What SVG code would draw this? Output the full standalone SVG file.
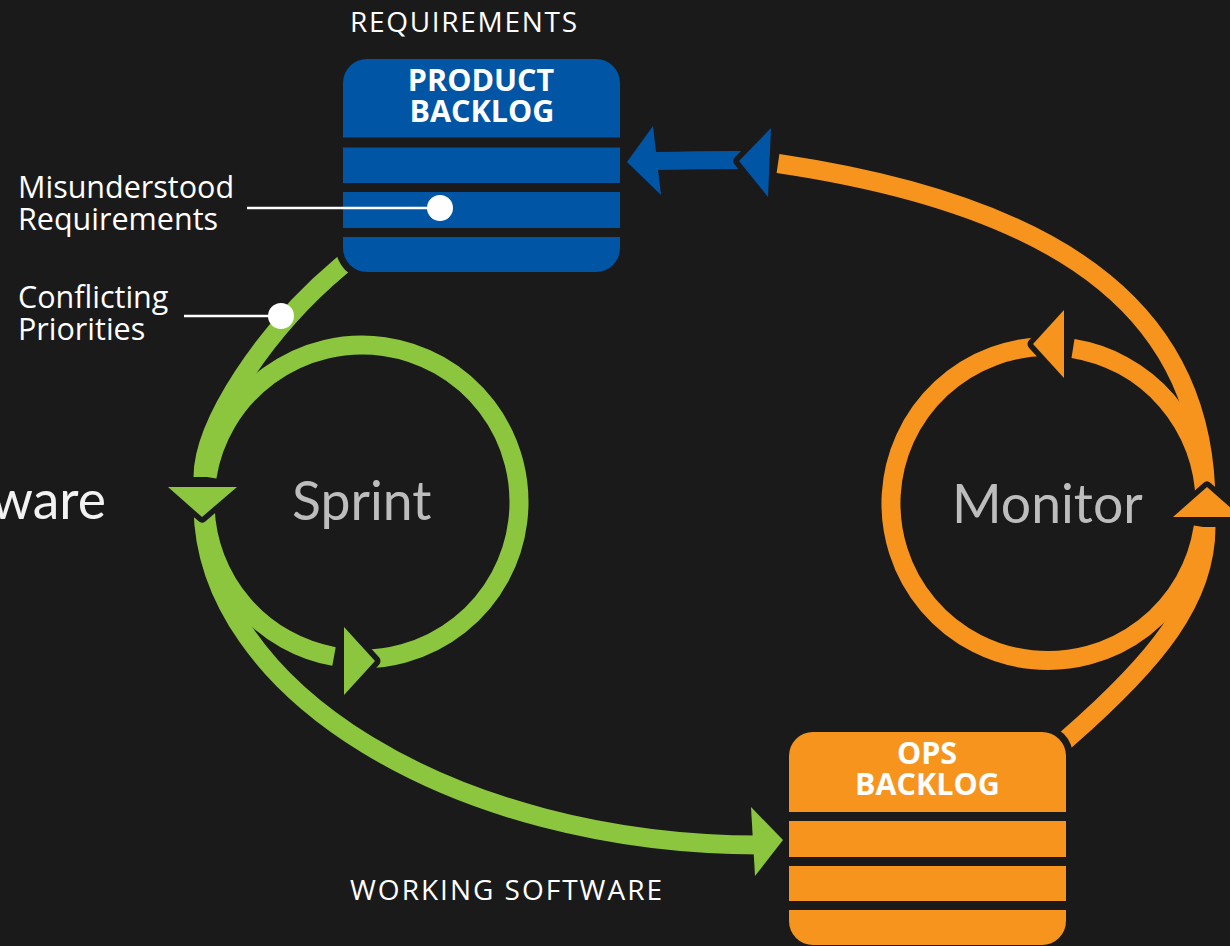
<svg xmlns="http://www.w3.org/2000/svg" width="1230" height="946" viewBox="0 0 1230 946">
<style>
.bg{fill:#1a1a1a}
.g{fill:none;stroke:#8cc63f;stroke-width:19}
.o{fill:none;stroke:#f7941d;stroke-width:19}
.b{fill:none;stroke:#0055a5;stroke-width:18}
.ah{stroke:#1a1a1a;stroke-width:11;stroke-linejoin:round;paint-order:stroke}
.lbl{font-family:"Open Sans","Noto Sans",sans-serif;font-size:30.5px;fill:#ffffff}
.cap{font-family:"Open Sans","Noto Sans",sans-serif;font-size:28px;fill:#ffffff}
.big{font-family:Lato,"Open Sans",sans-serif;font-size:53.5px;fill:#bdbdbd}
.hd{font-family:"Open Sans","Noto Sans",sans-serif;font-size:30.5px;font-weight:700;fill:#ffffff;text-anchor:middle}
.call{stroke:#ffffff;stroke-width:2.5}
</style>
<defs>
<mask id="boxgap" maskUnits="userSpaceOnUse" x="0" y="0" width="1230" height="946">
<rect x="0" y="0" width="1230" height="946" fill="#fff"/>
<rect x="336" y="52" width="291" height="227" rx="31" fill="#000"/>
<rect x="782" y="725" width="291" height="240" rx="31" fill="#000"/>
</mask>
</defs>
<rect class="bg" x="0" y="0" width="1230" height="946"/>

<g id="connectors">
<g mask="url(#boxgap)">
<path class="g" d="M352 257 L340 267 C265 330 203 424 203 477"/>
<path class="g" d="M203 505 C203 690 454 845 760 845"/>
<path class="g" d="M205.1 507.5 A157 157 0 0 0 334 656.5"/>
<path class="g" d="M345.6 658.1 A157 157 0 1 0 207 476.9"/>
<path class="o" d="M1050 346.5 A157 157 0 1 0 1203.2 527"/>
<path class="o" d="M1205 500.8 A157 157 0 0 0 1073 348.5"/>
<path class="o" d="M1060 745 L1068 738 C1156 661 1206 600 1206 527"/>
<path class="o" d="M1206 505 C1206 322 1078 208 778 163.5"/>
<path class="b" d="M758 160 Q710 159.5 655 161"/>
</g>
<polygon class="ah" fill="#8cc63f" points="168,487 237,487 202,517"/>
<polygon class="ah" fill="#8cc63f" points="344,627 375,661 344,695"/>
<polygon fill="#8cc63f" points="751,807 783,840 755,876"/>
<polygon class="ah" fill="#f7941d" points="1173,517 1207,487 1241,517"/>
<polygon class="ah" fill="#f7941d" points="1064,310 1033,344 1064,378"/>
<polygon class="ah" fill="#0055a5" points="771,128 739,161 768,197"/>
<polygon fill="#0055a5" points="653,126 627,162 661,195"/>
</g>

<g id="product-backlog">
<rect x="343" y="59" width="277" height="213" rx="24" fill="#0055a5"/>
<rect class="bg" x="343" y="137.5" width="277" height="10"/>
<rect class="bg" x="343" y="183" width="277" height="9"/>
<rect class="bg" x="343" y="228" width="277" height="9"/>
<text class="hd"><tspan x="481" y="91">PRODUCT</tspan><tspan x="482" y="121.5">BACKLOG</tspan></text>
</g>

<g id="ops-backlog">
<rect x="789" y="732" width="277" height="213" rx="24" fill="#f7941d"/>
<rect class="bg" x="789" y="812" width="277" height="9"/>
<rect class="bg" x="789" y="857" width="277" height="9"/>
<rect class="bg" x="789" y="901" width="277" height="9"/>
<text class="hd"><tspan x="927" y="764">OPS</tspan><tspan x="927.5" y="795">BACKLOG</tspan></text>
</g>

<g id="requirements-label">
<text class="cap" x="463.5" y="32" text-anchor="middle" textLength="227" lengthAdjust="spacing">REQUIREMENTS</text>
</g>
<g id="working-software-label">
<text class="cap" x="506" y="900" text-anchor="middle" textLength="312" lengthAdjust="spacing">WORKING SOFTWARE</text>
</g>

<g id="sprint">
<text class="big" x="292" y="520">Sprint</text>
</g>
<g id="monitor">
<text class="big" x="952" y="523">Monitor</text>
</g>
<g id="software">
<text class="big" x="106" y="519" text-anchor="end" style="fill:#f2f2f2">ware</text>
</g>

<g id="misunderstood">
<line class="call" x1="247" y1="208" x2="440" y2="208"/>
<circle cx="440" cy="208" r="13" fill="#ffffff"/>
<text class="lbl"><tspan x="18" y="197.5">Misunderstood</tspan><tspan x="18" y="230">Requirements</tspan></text>
</g>
<g id="conflicting">
<line class="call" x1="184" y1="316" x2="281" y2="316"/>
<circle cx="281" cy="316" r="13" fill="#ffffff"/>
<text class="lbl"><tspan x="18" y="308">Conflicting</tspan><tspan x="18" y="340">Priorities</tspan></text>
</g>
</svg>
